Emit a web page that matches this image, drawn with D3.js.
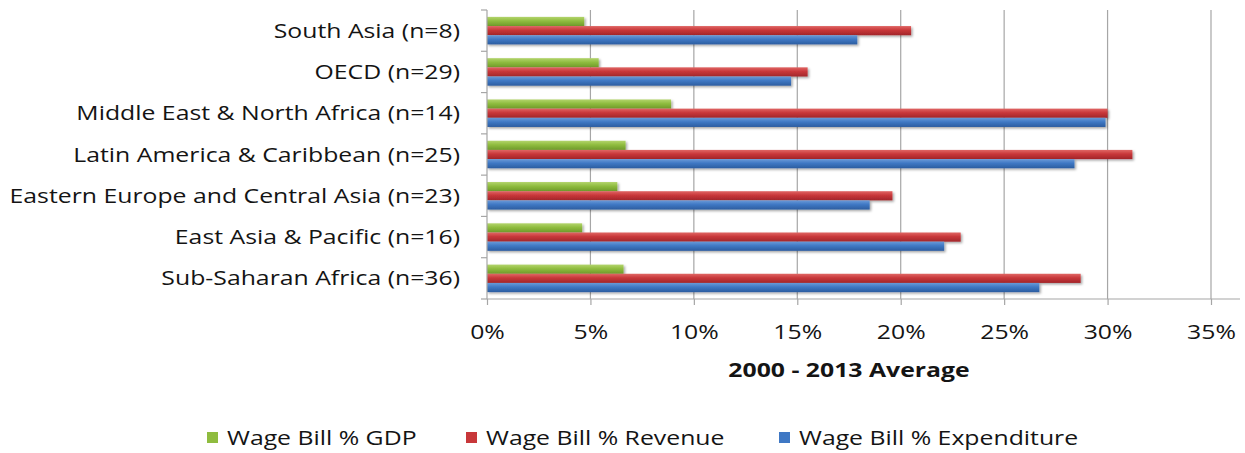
<!DOCTYPE html>
<html>
<head>
<meta charset="utf-8">
<script src="https://cdn.jsdelivr.net/npm/d3@7/dist/d3.min.js"></script>
<style>
  html, body { margin: 0; padding: 0; background: #fff; }
  svg { display: block; }
  text { font-family: "Open Sans", "Noto Sans", sans-serif; fill: #141414; }
</style>
</head>
<body>
<svg id="chart" width="1245" height="453"></svg>
<script>
// Regions, listed top to bottom
const regions = [
  "South Asia (n=8)",
  "OECD (n=29)",
  "Middle East & North Africa (n=14)",
  "Latin America & Caribbean (n=25)",
  "Eastern Europe and Central Asia (n=23)",
  "East Asia & Pacific (n=16)",
  "Sub-Saharan Africa (n=36)"
];
const seriesNames = ["Wage Bill % GDP", "Wage Bill % Revenue", "Wage Bill % Expenditure"];
// 2000-2013 averages, percent
const wageGDP         = [4.7, 5.4, 8.9, 6.7, 6.3, 4.6, 6.6];
const wageRevenue     = [20.5, 15.5, 30.0, 31.2, 19.6, 22.9, 28.7];
const wageExpenditure = [17.9, 14.7, 29.9, 28.4, 18.5, 22.1, 26.7];
const xTicks = [0, 5, 10, 15, 20, 25, 30, 35];
const axisTitle = "2000 - 2013 Average";
const colors = ["#8fbc3f", "#c8373a", "#3f78c4"];
const dark   = ["#6f9a2a", "#a2262a", "#2c5da0"];
const light  = ["#b3d46c", "#e06664", "#6a9ad8"];

const svg = d3.select("#chart");
const plotLeft = 487, plotRight = 1211, plotTop = 10, plotBottom = 299;
const sx = 1.24; // horizontal stretch of the lettering
const fs = 20;

const x = d3.scaleLinear().domain([0, 35]).range([plotLeft, plotRight]);
const y = d3.scaleBand().domain(regions).range([plotTop, plotBottom]).paddingInner(0).paddingOuter(0);
const ys = d3.scaleBand().domain(seriesNames).range([0, y.bandwidth()]).paddingInner(0).paddingOuter(0.75);

const defs = svg.append("defs");
seriesNames.forEach((s, i) => {
  const g = defs.append("linearGradient").attr("id", "grad" + i)
    .attr("x1", 0).attr("y1", 0).attr("x2", 0).attr("y2", 1);
  g.append("stop").attr("offset", "0%").attr("stop-color", light[i]);
  g.append("stop").attr("offset", "45%").attr("stop-color", colors[i]);
  g.append("stop").attr("offset", "100%").attr("stop-color", dark[i]);
});
const shadow = defs.append("filter").attr("id", "shadow")
  .attr("x", "-5%").attr("y", "-30%").attr("width", "110%").attr("height", "180%");
shadow.append("feDropShadow").attr("dx", 1.5).attr("dy", 1.5).attr("stdDeviation", 1.2)
  .attr("flood-color", "#000").attr("flood-opacity", 0.35);

// vertical gridlines
svg.append("g").selectAll("line").data(xTicks.slice(1)).join("line")
  .attr("x1", d => x(d)).attr("x2", d => x(d))
  .attr("y1", plotTop).attr("y2", plotBottom)
  .attr("stroke", "#a6a6a6").attr("stroke-width", 1.2);

// bars
const rows = regions.map((r, i) => ({ region: r, values: [wageGDP[i], wageRevenue[i], wageExpenditure[i]] }));
const groups = svg.append("g").selectAll("g").data(rows).join("g")
  .attr("transform", d => `translate(0,${y(d.region)})`);
groups.selectAll("rect").data(d => d.values.map((v, i) => ({ v, i }))).join("rect")
  .attr("x", x(0))
  .attr("y", d => ys(seriesNames[d.i]))
  .attr("height", ys.bandwidth())
  .attr("width", d => x(d.v) - x(0))
  .attr("fill", d => `url(#grad${d.i})`)
  .attr("filter", "url(#shadow)");

// x axis
const xAxis = svg.append("g").attr("transform", `translate(0,${plotBottom})`)
  .call(d3.axisBottom(x).tickValues(xTicks).tickFormat(d => d + "%").tickSize(6));
xAxis.select(".domain").remove();
xAxis.append("line").attr("x1", plotLeft).attr("x2", 1240).attr("y1", 0).attr("y2", 0)
  .attr("stroke", "#a6a6a6").attr("stroke-width", 1.2);
xAxis.selectAll(".tick line").attr("stroke", "#a6a6a6").attr("stroke-width", 1.2);
xAxis.selectAll(".tick text")
  .attr("font-size", fs).attr("fill", "#262626")
  .attr("font-family", "Open Sans, sans-serif")
  .attr("y", 0).attr("dy", null)
  .attr("transform", `translate(0,40) scale(${sx},1)`);

// y axis: line with tick marks between categories
const yAxis = svg.append("g");
yAxis.append("line").attr("x1", plotLeft).attr("x2", plotLeft).attr("y1", plotTop).attr("y2", plotBottom)
  .attr("stroke", "#a6a6a6").attr("stroke-width", 1.2);
const bounds = regions.map(r => y(r)).concat([plotBottom]);
yAxis.selectAll("line.tk").data(bounds).join("line").attr("class", "tk")
  .attr("x1", plotLeft - 6).attr("x2", plotLeft).attr("y1", d => d).attr("y2", d => d)
  .attr("stroke", "#a6a6a6").attr("stroke-width", 1.2);
yAxis.selectAll("text").data(regions).join("text")
  .attr("transform", d => `translate(460,${y(d) + y.bandwidth() / 2 + 7}) scale(${sx},1)`)
  .attr("text-anchor", "end")
  .attr("font-size", fs)
  .text(d => d);

// axis title
svg.append("text")
  .attr("transform", `translate(${(plotLeft + plotRight) / 2},377) scale(${sx},1)`)
  .attr("text-anchor", "middle")
  .attr("font-size", fs).attr("font-weight", "bold")
  .text(axisTitle);

// legend
const legendX = [207, 466, 779];
const legend = svg.append("g").selectAll("g").data(seriesNames).join("g")
  .attr("transform", (d, i) => `translate(${legendX[i]},438)`);
legend.append("rect").attr("x", 0).attr("y", -6).attr("width", 11).attr("height", 11)
  .attr("fill", (d, i) => colors[i]);
legend.append("text")
  .attr("transform", `translate(20,7) scale(${sx},1)`)
  .attr("font-size", fs)
  .text(d => d);
</script>
</body>
</html>
